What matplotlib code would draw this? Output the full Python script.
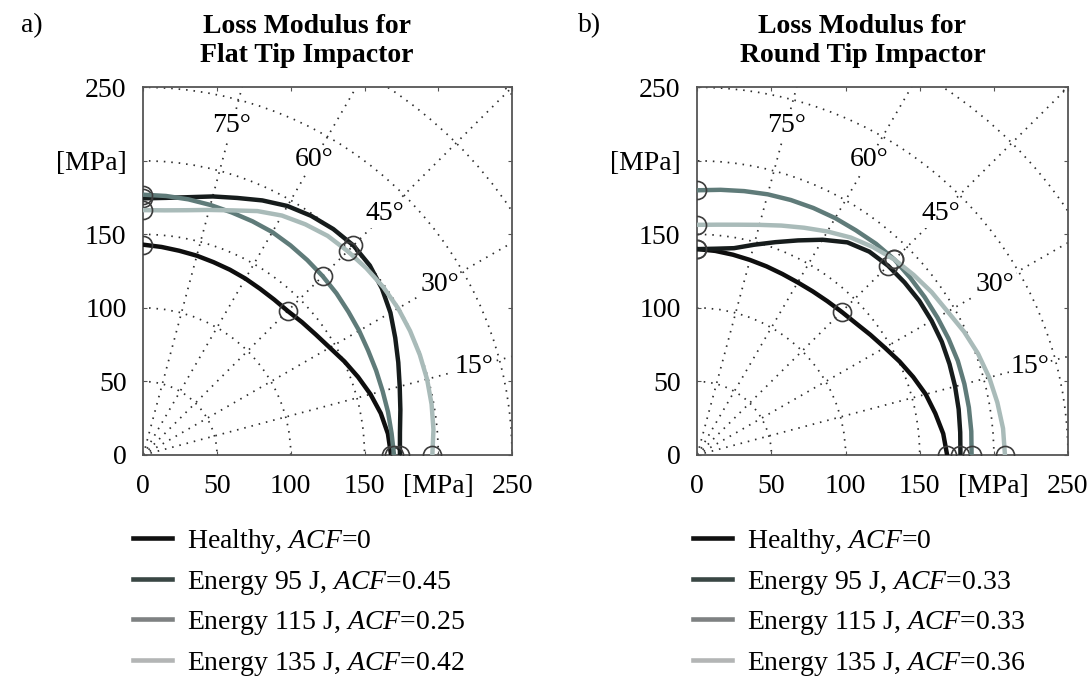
import numpy as np
import matplotlib
matplotlib.use("Agg")
import matplotlib.pyplot as plt
from matplotlib.patches import Circle
from matplotlib.lines import Line2D

plt.rcParams["font.family"] = ["Liberation Serif", "DejaVu Serif"]
plt.rcParams["mathtext.fontset"] = "custom"
plt.rcParams["mathtext.rm"] = "Liberation Serif"
plt.rcParams["mathtext.it"] = "Liberation Serif:italic"

# polar angle (deg) at which radii were read
angles = [0, 5, 10, 15, 20, 25, 30, 35, 40, 45, 50, 55, 60, 65, 70, 75, 80, 85, 90]

# a) flat tip impactor, loss modulus [MPa]
flat_healthy = [168, 166.5, 163.5, 159.5, 155, 150.5, 146, 142.8, 140.5, 138.5,
                138, 138, 138.5, 139, 139.5, 140.3, 141, 142, 143]
flat_95 = [174, 174.7, 177, 180, 184, 188.5, 193.5, 197.5, 200.5, 201.5,
           200.5, 198.5, 195.5, 191, 186, 182, 178, 175.5, 174.5]
flat_115 = [170, 169, 168.5, 168, 168, 168.2, 169, 169.8, 171, 172,
            173, 174, 175, 175.3, 175.5, 176, 176.5, 176.8, 177]
flat_135 = [196, 197.5, 198.5, 199.2, 199.5, 199.6, 199.5, 198.8, 197.5, 196,
            194.5, 191.5, 188, 183, 177, 172.5, 169, 167, 166.5]

# b) round tip impactor
round_healthy = [168.5, 166.5, 163, 159.5, 155, 150.5, 146, 142.5, 139.5, 137.7,
                 136.5, 135.8, 135.5, 135.8, 136.5, 137.3, 138.3, 139.3, 140]
round_95 = [177.5, 178, 179, 180, 181, 182, 182.5, 182.8, 182.5, 182,
            180.5, 176.5, 169, 161, 154, 148, 142.8, 140.8, 140]
round_115 = [185, 185.5, 186, 186.5, 187, 187, 187, 187.2, 187.5, 188,
             187.5, 186.5, 186, 185.3, 184.5, 183.5, 182.2, 181, 180]
round_135 = [207.5, 207, 205.5, 203.8, 201.5, 198.5, 195, 193, 190.5, 188,
             184.5, 180.5, 175.5, 170.5, 166, 162, 159, 157.2, 156.5]

labels_flat = [r"Healthy, $\mathit{ACF}$=0", r"Energy 95 J, $\mathit{ACF}$=0.45",
               r"Energy 115 J, $\mathit{ACF}$=0.25", r"Energy 135 J, $\mathit{ACF}$=0.42"]
labels_round = [r"Healthy, $\mathit{ACF}$=0", r"Energy 95 J, $\mathit{ACF}$=0.33",
                r"Energy 115 J, $\mathit{ACF}$=0.33", r"Energy 135 J, $\mathit{ACF}$=0.36"]

ticks = [0, 50, 100, 150, 200, 250]
tick_labels = ["0", "50", "100", "150", "[MPa]", "250"]
grid_r = [50, 100, 150, 200, 250, 300, 350]
grid_deg = [15, 30, 45, 60, 75]
marker_deg = [0, 45, 90]

line_colors = ["#0e0e0e", "#161c1c", "#5f7b79", "#a9bbb9"]
legend_colors = ["#111111", "#394644", "#7e8182", "#b3b5b5"]

fig = plt.figure(figsize=(10.91, 6.79), dpi=100)
ax_a = fig.add_axes([0.1313, 0.3299, 0.3380, 0.5415])
ax_b = fig.add_axes([0.6391, 0.3299, 0.3398, 0.5415])

th = np.radians(angles)
mk = [angles.index(d) for d in marker_deg]
dots = (0, (0.9, 3.4))

panels = [
    (ax_a, [flat_healthy, flat_95, flat_115, flat_135], labels_flat,
     "Loss Modulus for\nFlat Tip Impactor", "a)", 0.2811, 0.0193, 0.1219),
    (ax_b, [round_healthy, round_95, round_115, round_135], labels_round,
     "Loss Modulus for\nRound Tip Impactor", "b)", 0.7905, 0.5300, 0.6352),
]

for ax, series, labs, title, tag, tx, tagx, legx in panels:
    # polar grid
    for r in grid_r:
        ax.add_patch(Circle((0, 0), r, fill=False, ls=dots, lw=1.25,
                            ec="#2e2e2e", zorder=1))
    for d in grid_deg:
        ax.plot([0, 400 * np.cos(np.radians(d))], [0, 400 * np.sin(np.radians(d))],
                ls=dots, lw=1.25, color="#2e2e2e", zorder=1)
    for d in grid_deg:
        ax.text(232 * np.cos(np.radians(d)), 232 * np.sin(np.radians(d)), f"{d}°",
                ha="center", va="center", fontsize=20, zorder=2,
                bbox=dict(fc="white", ec="none", pad=1))

    for vals, c in zip(series, line_colors):
        r = np.array(vals)
        ax.plot(r * np.cos(th), r * np.sin(th), color=c, lw=3.2, zorder=3,
                solid_joinstyle="round",
                marker="o", markevery=mk, ms=13, mfc="none", mec="#3c3c3c", mew=1.2)

    ax.set_xlim(0, 250)
    ax.set_ylim(0, 250)
    ax.set_xticks(ticks)
    ax.set_yticks(ticks)
    ax.set_xticklabels(tick_labels)
    ax.set_yticklabels(tick_labels)
    ax.tick_params(direction="in", length=3, top=True, right=True, labelsize=20,
                   color="#555555")
    ax.tick_params(axis="x", pad=14)
    ax.tick_params(axis="y", pad=12)
    for s in ax.spines.values():
        s.set_linewidth(1.3)
        s.set_color("#555555")

    fig.text(tx, 0.9396, title, ha="center", va="center", fontsize=20,
             fontweight="bold", linespacing=1.25)
    fig.text(tagx, 0.9617, tag, ha="left", va="center", fontsize=20)

    handles = [Line2D([], [], color=c, lw=3.3) for c in legend_colors]
    ax.legend(handles, labs, loc="upper left", bbox_to_anchor=(legx, 0.2238),
              bbox_transform=fig.transFigure, frameon=False, fontsize=20,
              handlelength=1.4, handletextpad=0.55, labelspacing=0.45,
              borderpad=0, borderaxespad=0)

fig.savefig("out.png", dpi=100)
